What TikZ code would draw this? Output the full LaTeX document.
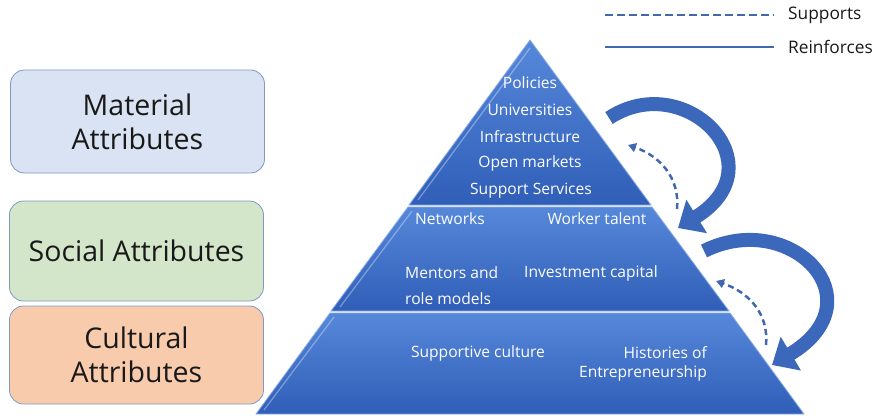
\documentclass[tikz,border=0pt]{standalone}
\usepackage{fontspec}
\setmainfont{Open Sans}
\usetikzlibrary{arrows.meta}
\definecolor{pyrlight}{RGB}{86,136,218}
\definecolor{pyrdark}{RGB}{48,94,184}
\definecolor{arrowblue}{RGB}{60,104,188}
\definecolor{legendblue}{RGB}{66,104,176}
\definecolor{matfill}{RGB}{218,227,243}
\definecolor{socfill}{RGB}{212,230,202}
\definecolor{culfill}{RGB}{248,203,173}
\definecolor{boxedge}{RGB}{128,152,196}
\definecolor{boxtext}{RGB}{25,25,25}
\begin{document}
\begin{tikzpicture}[x=1pt,y=-1pt,
  attrbox/.style={draw=boxedge, line width=0.8pt, rounded corners=14pt, minimum width=254pt, align=center, text=boxtext, font=\fontsize{28.5}{34}\selectfont},
  tier/.style={top color=pyrlight, bottom color=pyrdark, draw=pyrlight!70!white, line width=0.8pt},
  ptext/.style={text=white, font=\fontsize{15.6}{18}\selectfont, inner sep=1pt},
  blockarr/.style={draw=arrowblue, line width=14pt, -{Triangle[length=22pt,width=38pt]}},
  dasharr/.style={draw=legendblue, line width=2.5pt, dash pattern=on 6pt off 4pt, -{Triangle[length=8pt,width=9pt]}},
  legtext/.style={anchor=west, text=boxtext, font=\fontsize{17.3}{19}\selectfont, inner sep=0pt}
]
\useasboundingbox (0,0) rectangle (875,415);

% left boxes
\node[attrbox, fill=matfill, minimum height=103pt] (mat) at (137.5,121.5) {Material\\Attributes};
\node[attrbox, fill=socfill, minimum height=100pt] (soc) at (136.5,251) {Social Attributes};
\node[attrbox, fill=culfill, minimum height=98pt] (cul) at (136.5,355) {Cultural\\Attributes};

% pyramid tiers
\path[tier] (530,40) -- (651,205) -- (409,205) -- cycle;
\path[tier] (408,207) -- (652,207) -- (729,311) -- (331,311) -- cycle;
\path[tier] (330,313) -- (730,313) -- (804,414) -- (256,414) -- cycle;
% bevel highlights
\draw[white, opacity=0.35, line width=1.2pt] (530,48) -- (418,200);
\draw[white, opacity=0.35, line width=1.2pt] (412,211) -- (340,307);
\draw[white, opacity=0.35, line width=1.2pt] (334,317) -- (264,410);

% pyramid texts
\node[ptext] (pol) at (530,83) {Policies};
\node[ptext] (uni) at (530,110) {Universities};
\node[ptext] (inf) at (530,137) {Infrastructure};
\node[ptext] (opm) at (530,163) {Open markets};
\node[ptext] (sup) at (531,191) {Support Services};
\node[ptext] (net) at (450,219) {Networks};
\node[ptext] (wor) at (597,219) {Worker talent};
\node[ptext, anchor=west] (men) at (404,273) {Mentors and};
\node[ptext, anchor=west] (rol) at (404,299) {role models};
\node[ptext] (inv) at (591,273) {Investment capital};
\node[ptext] (suc) at (478,353) {Supportive culture};
\node[ptext, anchor=east] (his) at (708,353) {Histories of};
\node[ptext, anchor=east] (ent) at (708,373) {Entrepreneurship};

% block arrows (reinforces)
\coordinate (r1s) at (609,118);
\coordinate (r1e) at (678,228);
\coordinate (r2s) at (704,251);
\coordinate (r2e) at (772,365);
\draw[blockarr] (r1s) .. controls (685,68) and (780,165) .. (r1e);
\draw[blockarr] (r2s) .. controls (790,208) and (880,300) .. (r2e);

% dashed arrows (supports)
\coordinate (d1s) at (677,209);
\coordinate (d1e) at (628,145);
\coordinate (d2s) at (766,345);
\coordinate (d2e) at (716,281);
\draw[dasharr] (d1s) .. controls (680,178) and (660,156) .. (d1e);
\draw[dasharr] (d2s) .. controls (769,313) and (748,292) .. (d2e);

% legend
\coordinate (l1a) at (605,15);
\coordinate (l1b) at (774,15);
\coordinate (l2a) at (605,47);
\coordinate (l2b) at (774,47);
\draw[legendblue, line width=2.5pt, dash pattern=on 8pt off 4pt] (l1a) -- (l1b);
\draw[legendblue, line width=2.5pt] (l2a) -- (l2b);
\node[legtext] (lsup) at (788,15) {Supports};
\node[legtext] (lrei) at (788,47) {Reinforces};
\end{tikzpicture}
\end{document}
